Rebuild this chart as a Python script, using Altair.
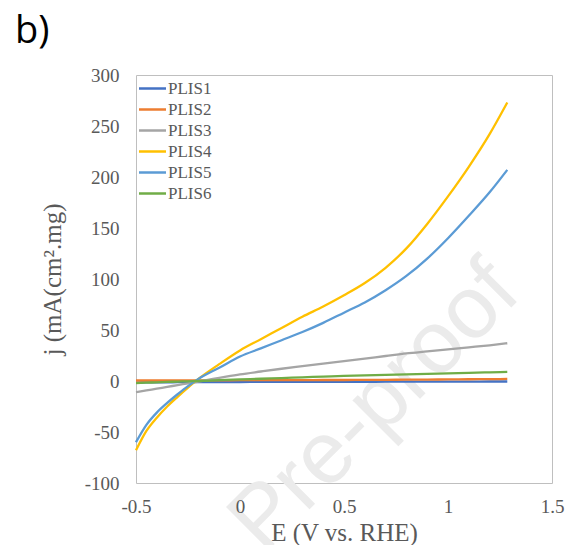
import altair as alt
import pandas as pd

# Potential E (V vs. RHE)
E = [-0.5, -0.45, -0.4, -0.35, -0.3, -0.25, -0.2, -0.1, 0.0, 0.1, 0.2, 0.3,
     0.4, 0.5, 0.6, 0.7, 0.8, 0.9, 1.0, 1.1, 1.2, 1.285]

PLIS1 = [-1.5, -1.4, -1.3, -1.3, -1.2, -1.2, -1.1, -1.0, -1.0, -0.9, -0.9, -0.9,
         -0.8, -0.8, -0.8, -0.7, -0.7, -0.7, -0.6, -0.6, -0.5, -0.5]
PLIS2 = [0.5, 0.5, 0.5, 0.6, 0.6, 0.6, 0.7, 0.7, 0.8, 0.8, 0.9, 0.9,
         1.0, 1.0, 1.1, 1.2, 1.3, 1.4, 1.5, 1.7, 1.8, 2.0]
PLIS3 = [-11, -9.3, -7.5, -5.8, -4, -2.3, -0.5, 3, 6.5, 9.3, 12, 14.5,
         17, 19.5, 22, 24.5, 27, 29, 31, 33, 35, 37]
PLIS4 = [-68, -49, -36, -25, -15.5, -6.5, 2, 16.5, 30, 41, 52, 63,
         73, 84, 96, 111, 130, 154, 181, 210, 242, 273]
PLIS5 = [-60, -43, -31, -21.5, -13, -5, 2, 13, 24, 32, 40, 48,
         57, 67, 77, 89, 103, 120, 140, 162, 185, 207]
PLIS6 = [-2, -1.6, -1.3, -0.9, -0.6, -0.3, 0, 0.8, 1.5, 2.2, 2.9, 3.6,
         4.3, 5, 5.5, 6, 6.5, 7, 7.5, 8, 8.5, 9]

series_names = ["PLIS1", "PLIS2", "PLIS3", "PLIS4", "PLIS5", "PLIS6"]
series_values = [PLIS1, PLIS2, PLIS3, PLIS4, PLIS5, PLIS6]
colors = ["#4472C4", "#ED7D31", "#A5A5A5", "#FFC000", "#5B9BD5", "#70AD47"]

x_ticks = [-0.5, 0, 0.5, 1, 1.5]
y_ticks = [-100, -50, 0, 50, 100, 150, 200, 250, 300]

rows = []
for name, vals in zip(series_names, series_values):
    for i, (e, j) in enumerate(zip(E, vals)):
        rows.append({"E": e, "j": j, "series": name, "order": i})
df = pd.DataFrame(rows)

serif = "Liberation Serif"
gray_txt = "#595959"

watermark = alt.Chart(pd.DataFrame({"t": ["Pre-proof"]})).mark_text(
    font="Liberation Sans", fontSize=88, color="#ebebeb", angle=315,
    align="center", baseline="middle"
).encode(x=alt.value(239), y=alt.value(332), text="t:N")

lines = alt.Chart(df).mark_line(strokeWidth=2.3, interpolate="monotone").encode(
    x=alt.X("E:Q", scale=alt.Scale(domain=[-0.5, 1.5], nice=False),
            axis=alt.Axis(values=x_ticks, labelExpr="toString(datum.value)",
                          labelFlush=False, labelOverlap=False, zindex=2,
                          labelPadding=14, titlePadding=4),
            title="E (V vs. RHE)"),
    y=alt.Y("j:Q", scale=alt.Scale(domain=[-100, 300], nice=False),
            axis=alt.Axis(values=y_ticks, labelExpr="toString(datum.value)",
                          labelFlush=False, labelOverlap=False, zindex=2,
                          labelPadding=17, titlePadding=19),
            title="j (mA(cm².mg)"),
    color=alt.Color("series:N",
                    scale=alt.Scale(domain=series_names, range=colors),
                    legend=alt.Legend(title=None, orient="none", legendX=5, legendY=2,
                                      symbolType="M-1.35,0L1.35,0", symbolSize=400,
                                      symbolStrokeWidth=2.5, labelFont=serif,
                                      labelFontSize=17, labelColor=gray_txt,
                                      labelOffset=4, rowPadding=1, padding=0)),
    order="order:Q",
)

label_b = alt.Chart(pd.DataFrame({"t": ["b)"]})).mark_text(
    font="Open Sans", fontSize=38, color="#000000", align="left",
    baseline="alphabetic"
).encode(x=alt.value(-121), y=alt.value(-32), text="t:N")

chart = alt.layer(watermark, lines, label_b).properties(
    width=416, height=408,
    background="white",
    autosize=alt.AutoSizeParams(type="none"),
    padding={"left": 128, "top": 67, "right": 15, "bottom": 62},
).configure_view(stroke="#bfbfbf", strokeWidth=1).configure_axis(
    grid=False, ticks=False, domain=False,
    labelFont=serif, labelFontSize=19, labelColor=gray_txt,
    titleFont=serif, titleFontSize=25, titleColor=gray_txt, titleFontWeight="normal",
)

chart.save("out.html", embed_options={"renderer": "svg", "actions": False})
